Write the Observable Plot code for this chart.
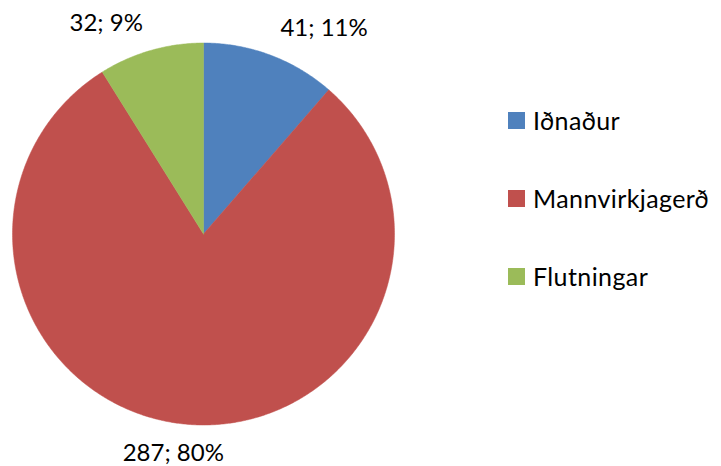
<!DOCTYPE html>
<html>
<head>
<meta charset="utf-8">
<script src="https://cdn.jsdelivr.net/npm/d3@7"></script>
<script src="https://cdn.jsdelivr.net/npm/@observablehq/plot@0.6"></script>
<style>
  html, body { margin: 0; padding: 0; background: #fff; }
  #wrap { position: relative; width: 721px; height: 466px; font-family: Lato, "Open Sans", sans-serif; }
  #legend { position: absolute; left: 508px; top: 0; }
  .item { position: absolute; left: 0; display: flex; align-items: center; white-space: nowrap; font-size: 25px; letter-spacing: 0.4px; color: #000; }
  .sw { width: 17px; height: 17px; margin-right: 8px; flex: none; }
</style>
</head>
<body>
<div id="wrap"><div id="chart"></div><div id="legend"></div></div>
<script>
const categories = ["Iðnaður", "Mannvirkjagerð", "Flutningar"];
const values = [41, 287, 32];
const colors = ["#4F81BD", "#C0504D", "#9BBB59"];

const total = d3.sum(values);
const arcs = d3.pie().sort(null).value(d => d)(values);

// polygon points for each slice (angle 0 = top, clockwise)
const pts = [];
arcs.forEach((a, i) => {
  const name = categories[i];
  pts.push({name, x: 0, y: 0});
  const n = Math.max(2, Math.ceil((a.endAngle - a.startAngle) / (Math.PI / 360)));
  for (let k = 0; k <= n; k++) {
    const t = a.startAngle + (a.endAngle - a.startAngle) * k / n;
    pts.push({name, x: Math.sin(t), y: Math.cos(t)});
  }
  pts.push({name, x: 0, y: 0});
});

const labels = arcs.map((a, i) => {
  const m = (a.startAngle + a.endAngle) / 2;
  const s = Math.sin(m);
  return {
    text: `${values[i]}; ${Math.round(values[i] / total * 100)}%`,
    x: 1.15 * s,
    y: 1.15 * Math.cos(m),
    anchor: s > 0.1 ? "start" : s < -0.1 ? "end" : "middle"
  };
});

const chart = Plot.plot({
  width: 721,
  height: 466,
  margin: 0,
  x: {domain: [-1, 1], range: [12, 394], axis: null},
  y: {domain: [-1, 1], range: [424.5, 42.5], axis: null},
  color: {domain: categories, range: colors},
  style: {fontFamily: "Lato, 'Open Sans', sans-serif", background: "#fff"},
  marks: [
    Plot.line(pts, {x: "x", y: "y", z: "name", fill: "name", stroke: "name", strokeWidth: 0.5, curve: "linear"}),
    ...["start", "middle", "end"].map(anc =>
      Plot.text(labels.filter(d => d.anchor === anc), {x: "x", y: "y", text: "text", textAnchor: anc, fontSize: 24, fill: "#000", dx: anc === "middle" ? -13 : 0})
    )
  ]
});
document.getElementById("chart").appendChild(chart);

const legend = document.getElementById("legend");
categories.forEach((c, i) => {
  const el = document.createElement("div");
  el.className = "item";
  el.style.top = (120 + i * 78 - 16) + "px";
  el.style.height = "32px";
  el.innerHTML = `<span class="sw" style="background:${colors[i]}"></span><span>${c}</span>`;
  legend.appendChild(el);
});
</script>
</body>
</html>
